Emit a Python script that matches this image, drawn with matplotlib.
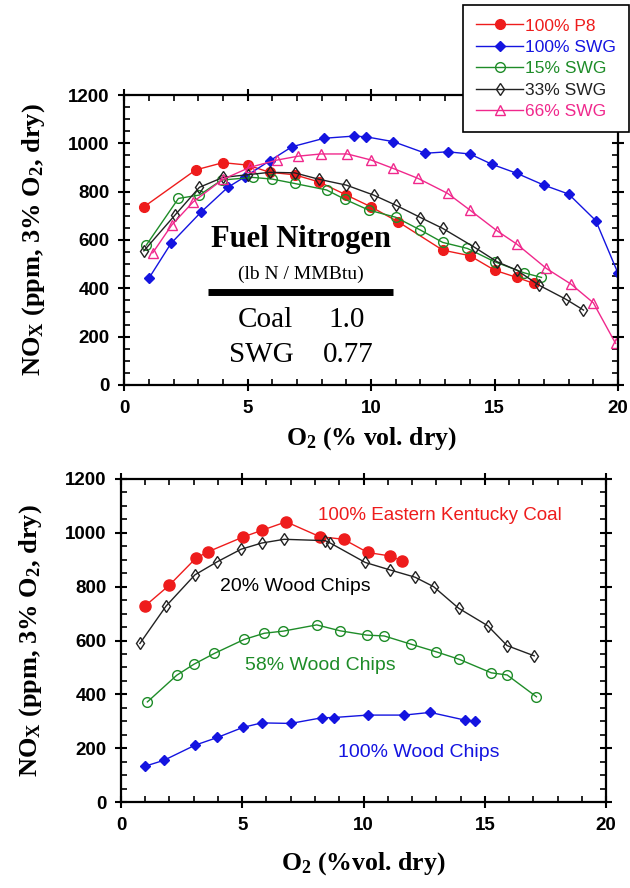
import numpy as np
import matplotlib
matplotlib.use("Agg")
import matplotlib.pyplot as plt
from matplotlib.ticker import MultipleLocator

plt.rcParams["font.family"] = ["Liberation Sans", "DejaVu Sans"]
plt.rcParams["mathtext.fontset"] = "custom"
plt.rcParams["mathtext.rm"] = "Liberation Serif:bold"
plt.rcParams["mathtext.bf"] = "Liberation Serif:bold"
plt.rcParams["mathtext.it"] = "Liberation Serif:bold"

# ---- top panel: switchgrass blends ----
p8_x = [0.8, 2.9, 4.0, 5.0, 5.9, 6.9, 7.9, 9.0, 10.0, 11.1, 12.9, 14.0, 15.0, 15.9, 16.6]
p8_y = [737, 890, 920, 910, 880, 870, 840, 786, 737, 675, 558, 535, 475, 445, 420]

swg100_x = [1.0, 1.9, 3.1, 4.2, 4.9, 5.9, 6.8, 8.1, 9.3, 9.8, 10.9, 12.2, 13.1, 14.0, 14.9,
            15.9, 17.0, 18.0, 19.1, 20.0]
swg100_y = [441, 586, 714, 818, 862, 928, 986, 1021, 1030, 1027, 1007, 959, 965, 956, 913,
            876, 827, 790, 680, 462]

swg15_x = [0.9, 2.2, 3.05, 3.95, 5.2, 6.0, 6.9, 8.2, 8.95, 9.9, 11.0, 12.0, 12.9, 13.9, 15.0,
           16.2, 16.9]
swg15_y = [579, 772, 786, 848, 859, 852, 834, 807, 768, 724, 694, 641, 590, 565, 510, 464, 445]

swg33_x = [0.8, 2.06, 3.05, 4.0, 5.0, 5.9, 6.9, 7.9, 9.0, 10.1, 11.0, 12.0, 12.9, 14.2, 15.1,
           15.9, 16.8, 17.9, 18.6]
swg33_y = [555, 703, 818, 859, 870, 880, 878, 851, 827, 786, 744, 693, 648, 569, 510, 475, 413,
           354, 310]

swg66_x = [1.16, 1.93, 2.8, 4.0, 5.1, 6.2, 7.06, 7.96, 9.04, 10.0, 10.9, 11.9, 13.1, 14.0,
           15.1, 15.9, 17.1, 18.1, 19.0, 19.9]
swg66_y = [547, 662, 758, 851, 901, 931, 947, 956, 956, 931, 896, 855, 793, 724, 638, 583, 482,
           417, 340, 172]

# ---- bottom panel: wood chip blends ----
ek_x = [0.99, 2.0, 3.09, 3.6, 5.02, 5.8, 6.81, 8.19, 9.18, 10.17, 11.1, 11.58]
ek_y = [728, 806, 906, 930, 984, 1009, 1041, 986, 976, 927, 914, 896]

wc20_x = [0.78, 1.86, 3.05, 3.98, 4.95, 5.8, 6.73, 8.42, 8.63, 10.07, 11.1, 12.13, 12.89,
          13.92, 15.12, 15.92, 17.04]
wc20_y = [589, 728, 844, 893, 939, 962, 976, 971, 962, 890, 862, 835, 800, 720, 655, 581, 543]

wc58_x = [1.09, 2.3, 3.01, 3.85, 5.08, 5.91, 6.7, 8.07, 9.04, 10.14, 10.85, 11.97, 13.0,
          13.95, 15.27, 15.92, 17.13]
wc58_y = [372, 471, 512, 552, 604, 627, 635, 658, 636, 620, 617, 586, 558, 530, 480, 472, 391]

wc100_x = [0.99, 1.77, 3.05, 3.98, 5.02, 5.8, 7.0, 8.28, 8.79, 10.17, 11.68, 12.75, 14.2, 14.61]
wc100_y = [133, 155, 211, 240, 277, 294, 292, 313, 314, 323, 323, 333, 304, 301]

RED = "#ee1c1c"
BLUE = "#1414e0"
GREEN = "#1e8c28"
BLACK = "#222222"
PINK = "#f0288c"

YLABEL = r"NO$_X$ (ppm, 3% O$_2$, dry)"
serif = ["Liberation Serif", "DejaVu Serif"]


def style_axes(ax, xlabel, xpad):
    ax.set_xlim(0, 20)
    ax.set_ylim(0, 1200)
    ax.xaxis.set_major_locator(MultipleLocator(5))
    ax.xaxis.set_minor_locator(MultipleLocator(1))
    ax.yaxis.set_major_locator(MultipleLocator(200))
    ax.yaxis.set_minor_locator(MultipleLocator(50))
    ax.tick_params(which="major", direction="inout", length=9, width=1.5,
                   top=True, right=True, labelsize=13.5, pad=6)
    ax.tick_params(which="minor", direction="in", length=4, width=1.2,
                   top=True, right=True)
    for lbl in ax.get_xticklabels() + ax.get_yticklabels():
        lbl.set_fontweight("bold")
    for s in ax.spines.values():
        s.set_linewidth(1.6)
    ax.set_xlabel(xlabel, family=serif, fontsize=18.5, fontweight="bold", labelpad=xpad)
    ax.set_ylabel(YLABEL, family=serif, fontsize=19, fontweight="bold", labelpad=15)


fig = plt.figure(figsize=(6.3, 8.88), dpi=100)
ax1 = fig.add_axes([0.197, 0.5665, 0.784, 0.3265])
ax2 = fig.add_axes([0.192, 0.0968, 0.770, 0.3638])

mk = dict(lw=1.0, markersize=7)
ax1.plot(p8_x, p8_y, "-o", color=RED, mfc=RED, label="100% P8", **mk)
ax1.plot(swg100_x, swg100_y, "-D", color=BLUE, mfc=BLUE, lw=1.0, markersize=5.5,
         label="100% SWG")
ax1.plot(swg15_x, swg15_y, "-o", color=GREEN, mfc="none", label="15% SWG", **mk)
ax1.plot(swg33_x, swg33_y, "-d", color=BLACK, mfc="none", lw=1.0, markersize=6.5,
         label="33% SWG")
ax1.plot(swg66_x, swg66_y, "-^", color=PINK, mfc="none", label="66% SWG", **mk)
style_axes(ax1, r"O$_2$ (% vol. dry)", 6)

ax1.text(7.17, 600, "Fuel Nitrogen", family=serif, fontsize=22, fontweight="bold",
         ha="center", va="center")
ax1.text(7.17, 459, "(lb N / MMBtu)", family=serif, fontsize=14, ha="center", va="center")
ax1.plot([3.4, 10.9], [384, 384], color="black", lw=5, solid_capstyle="butt")
ax1.text(5.7, 268, "Coal", family=serif, fontsize=21, ha="center", va="center")
ax1.text(9.0, 268, "1.0", family=serif, fontsize=21, ha="center", va="center")
ax1.text(5.55, 122, "SWG", family=serif, fontsize=21, ha="center", va="center")
ax1.text(9.07, 122, "0.77", family=serif, fontsize=21, ha="center", va="center")

leg = fig.legend(*ax1.get_legend_handles_labels(), loc="upper left",
                 bbox_to_anchor=(0.735, 0.994), frameon=True, fancybox=False,
                 framealpha=1, fontsize=12.5, handlelength=2.7, handletextpad=0.1,
                 labelspacing=0.36, borderpad=0.75, borderaxespad=0)
leg.get_frame().set_edgecolor("black")
leg.get_frame().set_linewidth(1.2)
for txt, h in zip(leg.get_texts(), leg.legend_handles):
    txt.set_color(h.get_color())

ax2.plot(ek_x, ek_y, "-o", color=RED, mfc=RED, lw=1.0, markersize=8)
ax2.plot(wc20_x, wc20_y, "-d", color=BLACK, mfc="none", lw=1.0, markersize=6.5)
ax2.plot(wc58_x, wc58_y, "-o", color=GREEN, mfc="none", lw=1.0, markersize=7)
ax2.plot(wc100_x, wc100_y, "-D", color=BLUE, mfc=BLUE, lw=1.0, markersize=5.5)
style_axes(ax2, r"O$_2$ (%vol. dry)", 12)

ax2.text(8.13, 1063, "100% Eastern Kentucky Coal", color=RED, fontsize=13.5,
         ha="left", va="center")
ax2.text(4.09, 799, "20% Wood Chips", color="black", fontsize=14, ha="left", va="center")
ax2.text(5.1, 508, "58% Wood Chips", color=GREEN, fontsize=14, ha="left", va="center")
ax2.text(8.95, 185, "100% Wood Chips", color=BLUE, fontsize=14, ha="left", va="center")

fig.savefig("out.png", dpi=100)
